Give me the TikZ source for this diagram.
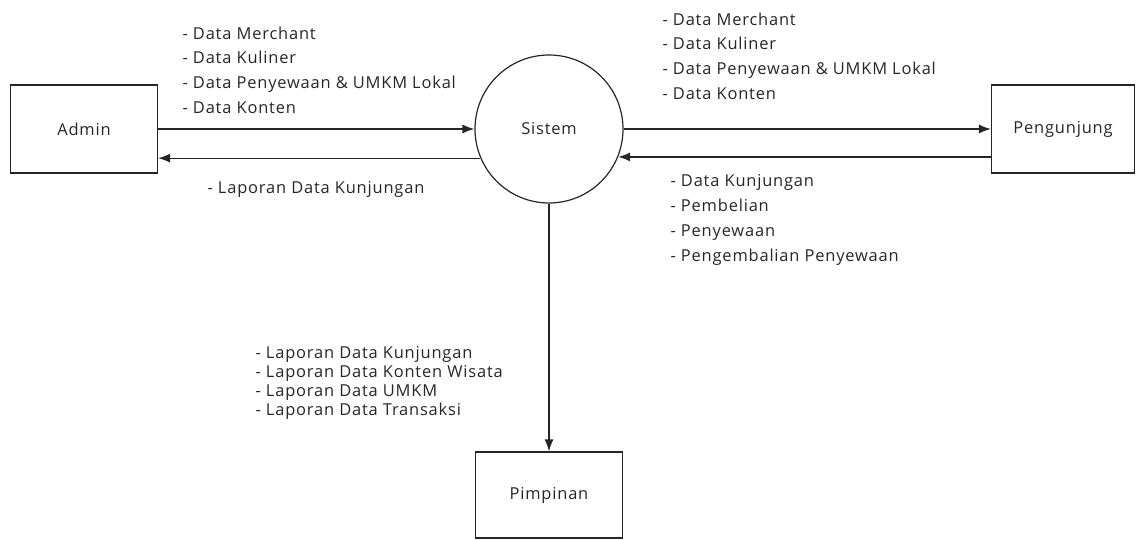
\documentclass[tikz,border=0pt]{standalone}
\usepackage{fontspec}
\setmainfont[LetterSpace=5]{Open Sans}
\usetikzlibrary{arrows.meta,positioning}

\begin{document}
\begin{tikzpicture}[x=1bp,y=-1bp,line width=1.2bp,draw=black!85,>={Latex[length=12bp,width=9bp]}]

		\tikzstyle{entitas}=[shape=rectangle,draw,minimum width=147bp,minimum height=88bp,text=black!85,font=\fontsize{16.5}{20}\selectfont]
		\tikzstyle{proses}=[shape=circle,draw,minimum size=148bp,inner sep=0,text=black!85,font=\fontsize{16.5}{20}\selectfont]
		\tikzstyle{aliran}=[align=left,inner sep=0,anchor=north west,text=black!85,font=\fontsize{16.5}{25}\selectfont]
		\tikzstyle{laporan}=[align=left,inner sep=0,anchor=north west,text=black!85,font=\fontsize{16.5}{19}\selectfont]

		\useasboundingbox (0,0) rectangle (1139,540);

		\node[proses] (sistem) at (549,129) {Sistem};
		\node[entitas] (admin) [left of=sistem, node distance=465bp] {Admin};
		\node[entitas, minimum width=143bp] (pengunjung) [right of=sistem, node distance=514bp] {Pengunjung};
		\node[entitas, minimum height=86bp] (pimpinan) [below of=sistem, node distance=366bp] {Pimpinan};

		\node[aliran] (masukadmin) at (182,26) {- Data Merchant\\- Data Kuliner\\- Data Penyewaan \& UMKM Lokal\\- Data Konten};
		\node[aliran] (keluaradmin) at (207,181) {- Laporan Data Kunjungan};
		\node[aliran] (keluarpengunjung) at (662,12) {- Data Merchant\\- Data Kuliner\\- Data Penyewaan \& UMKM Lokal\\- Data Konten};
		\node[aliran] (masukpengunjung) at (670,174) {- Data Kunjungan\\- Pembelian\\- Penyewaan\\- Pengembalian Penyewaan};
		\node[laporan] (keluarpimpinan) at (255,346) {- Laporan Data Kunjungan\\- Laporan Data Konten Wisata\\- Laporan Data UMKM\\- Laporan Data Transaksi};

		\path[->] (admin) edge (sistem)
					(sistem.203) edge (admin.east |- sistem.203)
					(sistem) edge (pengunjung)
					(pengunjung.west |- sistem.338) edge (sistem.338)
					(sistem) edge (pimpinan);

	\end{tikzpicture}
\end{document}
